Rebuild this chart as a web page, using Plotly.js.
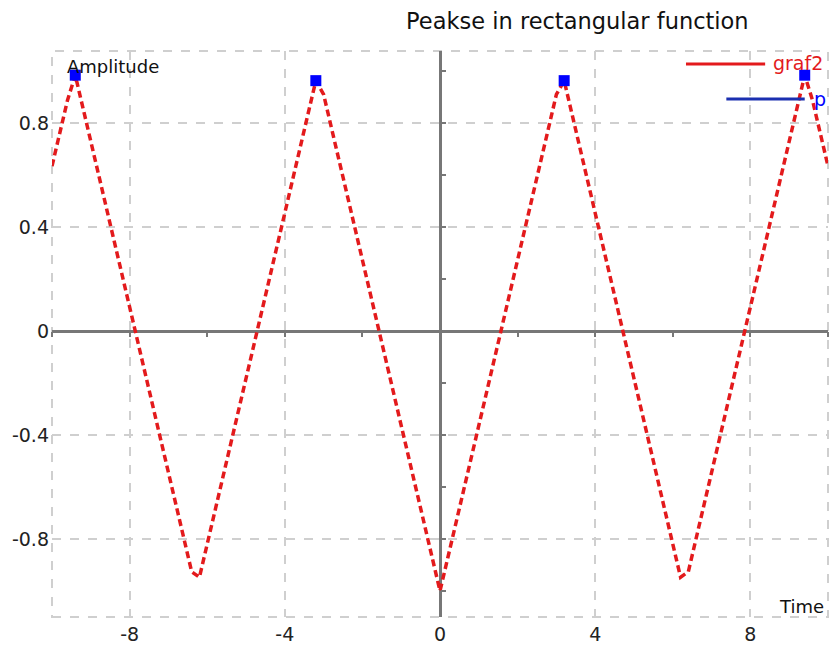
<!DOCTYPE html>
<html>
<head>
<meta charset="utf-8">
<script src="https://cdn.plot.ly/plotly-3.0.1.min.js"></script>
<style>html,body{margin:0;padding:0;background:#fff;}#chart{width:831px;height:648px;}</style>
</head>
<body>
<div id="chart"></div>
<script>
// Time samples of the rectangular (triangle-shaped) signal
var timeValues = [-10,-9.8,-9.6,-9.4,-9.2,-9,-8.8,-8.6,-8.4,-8.2,-8,-7.8,-7.6,-7.4,-7.2,-7,-6.8,-6.6,-6.4,-6.2,-6,-5.8,-5.6,-5.4,-5.2,-5,-4.8,-4.6,-4.4,-4.2,-4,-3.8,-3.6,-3.4,-3.2,-3,-2.8,-2.6,-2.4,-2.2,-2,-1.8,-1.6,-1.4,-1.2,-1,-0.8,-0.6,-0.4,-0.2,0,0.2,0.4,0.6,0.8,1,1.2,1.4,1.6,1.8,2,2.2,2.4,2.6,2.8,3,3.2,3.4,3.6,3.8,4,4.2,4.4,4.6,4.8,5,5.2,5.4,5.6,5.8,6,6.2,6.4,6.6,6.8,7,7.2,7.4,7.6,7.8,8,8.2,8.4,8.6,8.8,9,9.2,9.4,9.6,9.8,10];
var amplitudeValues = [0.634,0.761,0.888,0.984,0.857,0.730,0.602,0.475,0.348,0.220,0.093,-0.034,-0.162,-0.289,-0.416,-0.544,-0.671,-0.798,-0.926,-0.947,-0.820,-0.692,-0.565,-0.438,-0.310,-0.183,-0.056,0.072,0.199,0.326,0.454,0.581,0.708,0.835,0.963,0.910,0.783,0.655,0.528,0.401,0.273,0.146,0.019,-0.109,-0.236,-0.363,-0.491,-0.618,-0.745,-0.873,-1.000,-0.873,-0.745,-0.618,-0.491,-0.363,-0.236,-0.109,0.019,0.146,0.273,0.401,0.528,0.655,0.783,0.910,0.963,0.835,0.708,0.581,0.454,0.326,0.199,0.072,-0.056,-0.183,-0.310,-0.438,-0.565,-0.692,-0.820,-0.947,-0.926,-0.798,-0.671,-0.544,-0.416,-0.289,-0.162,-0.034,0.093,0.220,0.348,0.475,0.602,0.730,0.857,0.984,0.888,0.761,0.634];
// Detected peaks
var peakTimes = [-9.4, -3.2, 3.2, 9.4];
var peakValues = [0.984, 0.963, 0.963, 0.984];
// Tick labels
var xTickVals = [-8, -4, 0, 4, 8];
var xTickText = ['-8', '-4', '0', '4', '8'];
var yTickVals = [-0.8, -0.4, 0, 0.4, 0.8];
var yTickText = ['-0.8', '-0.4', '0', '0.4', '0.8'];
var seriesNames = ['graf2', 'p'];

var xRange = [-10, 10];
var yRange = [-1.1, 1.077];
var zeroFrac = (0 - yRange[0]) / (yRange[1] - yRange[0]);

var FONT = 'DejaVu Sans, Verdana, sans-serif';

var traces = [
  {
    x: timeValues, y: amplitudeValues, name: seriesNames[0],
    type: 'scatter', mode: 'lines',
    line: {color: '#e31a1c', width: 3.5, dash: '7px,4px'},
    hoverinfo: 'x+y', showlegend: false
  },
  {
    x: peakTimes, y: peakValues, name: seriesNames[1],
    type: 'scatter', mode: 'markers',
    marker: {color: '#0000ff', size: 11, symbol: 'square'},
    showlegend: false
  },
  {x: [], y: [], xaxis: 'x2', yaxis: 'y2', showlegend: false, hoverinfo: 'skip'}
];

var layout = {
  width: 831, height: 648,
  paper_bgcolor: '#ffffff', plot_bgcolor: '#ffffff',
  margin: {l: 52, r: 3, t: 51, b: 31},
  font: {family: FONT, size: 14, color: '#222'},
  title: {
    text: 'Peakse in rectangular function',
    x: 0.677, xref: 'paper', xanchor: 'center',
    y: 1 - 21 / 648, yref: 'container', yanchor: 'middle',
    font: {family: FONT, size: 22.5, color: '#111'}
  },
  showlegend: false,
  xaxis: {
    range: xRange, tickvals: xTickVals, ticktext: xTickText,
    showgrid: true, gridcolor: '#cfcfcf', gridwidth: 2, griddash: 'dash',
    zeroline: true, zerolinecolor: '#777', zerolinewidth: 3,
    showline: false, ticks: '', ticklen: 0, ticklabelstandoff: 4,
    tickfont: {family: FONT, size: 19, color: '#222'}
  },
  yaxis: {
    range: yRange, tickvals: yTickVals, ticktext: yTickText,
    showgrid: true, gridcolor: '#cfcfcf', gridwidth: 2, griddash: 'dash',
    zeroline: true, zerolinecolor: '#777', zerolinewidth: 3,
    showline: false, ticks: '', ticklen: 0, ticklabelstandoff: 2,
    tickfont: {family: FONT, size: 19, color: '#222'}
  },
  xaxis2: {
    range: xRange, overlaying: 'x', anchor: 'free', position: zeroFrac,
    dtick: 2, tick0: 0, ticks: 'outside', ticklen: 5, tickwidth: 2, tickcolor: '#777',
    showticklabels: false, showgrid: false, zeroline: false, showline: false
  },
  yaxis2: {
    range: yRange, overlaying: 'y', anchor: 'free', position: 0.5, side: 'right',
    dtick: 0.2, tick0: 0, ticks: 'outside', ticklen: 5, tickwidth: 2, tickcolor: '#777',
    showticklabels: false, showgrid: false, zeroline: false, showline: false
  },
  shapes: [
    {type: 'rect', xref: 'paper', yref: 'paper', x0: 0, x1: 1, y0: 0, y1: 1,
     line: {color: '#cfcfcf', width: 2, dash: 'dash'}, layer: 'below'},
    {type: 'line', xref: 'paper', yref: 'paper', x0: 0.817, x1: 0.919, y0: 0.977, y1: 0.977,
     line: {color: '#e31a1c', width: 3}},
    {type: 'line', xref: 'paper', yref: 'paper', x0: 0.869, x1: 0.970, y0: 0.915, y1: 0.915,
     line: {color: '#1a2fb0', width: 3}}
  ],
  annotations: [
    {text: 'Amplitude', xref: 'paper', yref: 'paper', x: 0.0168, y: 0.972,
     xanchor: 'left', yanchor: 'middle', showarrow: false,
     font: {family: FONT, size: 18, color: '#111'}},
    {text: 'Time', xref: 'paper', yref: 'paper', x: 0.998, y: 0.019,
     xanchor: 'right', yanchor: 'middle', showarrow: false,
     font: {family: FONT, size: 18, color: '#111'}},
    {text: seriesNames[0], xref: 'paper', yref: 'paper', x: 0.927, y: 0.979,
     xanchor: 'left', yanchor: 'middle', showarrow: false,
     font: {family: FONT, size: 19, color: '#e31a1c'}},
    {text: seriesNames[1], xref: 'paper', yref: 'paper', x: 0.980, y: 0.915,
     xanchor: 'left', yanchor: 'middle', showarrow: false,
     font: {family: FONT, size: 19, color: '#0000ff'}}
  ]
};

Plotly.newPlot('chart', traces, layout, {displayModeBar: false, staticPlot: true});
</script>
</body>
</html>
